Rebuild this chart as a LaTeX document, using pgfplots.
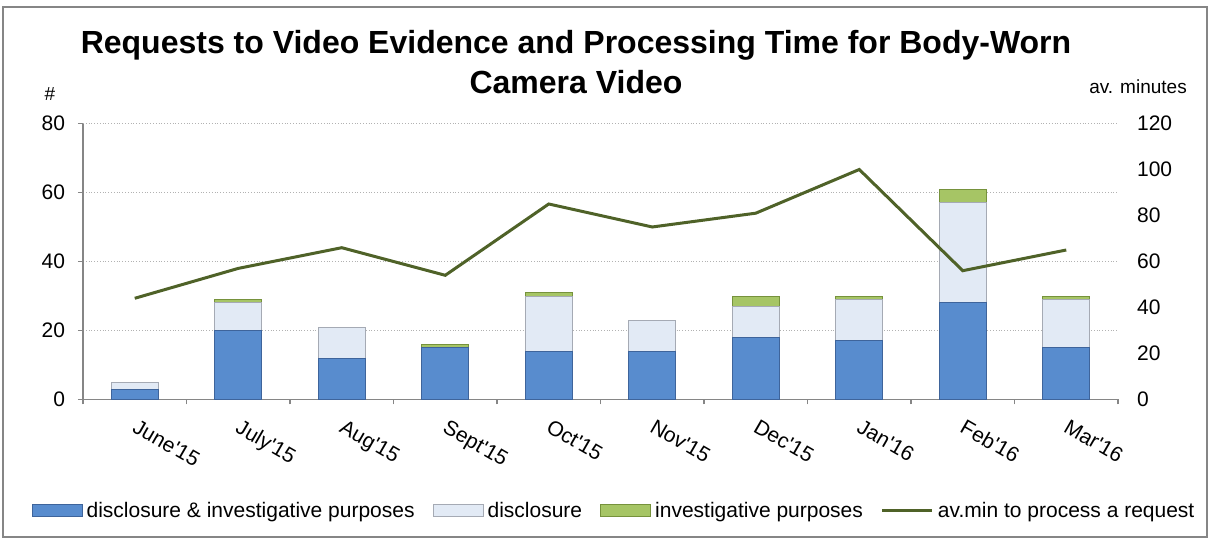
\documentclass[border=0pt]{standalone}
\usepackage{pgfplots}
\usepackage{pgfplotstable}
\pgfplotsset{compat=1.18}
\usepackage{fontspec}
\setmainfont{Liberation Sans}[Ligatures=TeXOff]

\definecolor{barblue}{RGB}{88,140,206}
\definecolor{barblueD}{RGB}{62,100,155}
\definecolor{barlight}{RGB}{226,234,245}
\definecolor{barlightD}{RGB}{165,170,180}
\definecolor{bargreen}{RGB}{166,197,101}
\definecolor{bargreenD}{RGB}{118,146,60}
\definecolor{linegreen}{RGB}{79,98,40}
\definecolor{axgray}{RGB}{134,134,134}

\pgfplotsset{
  barleg/.style={legend image code/.code={\draw[##1] (0pt,-3pt) rectangle (25pt,3pt);}},
  lineleg/.style={legend image code/.code={\draw[##1] (0pt,0pt) -- (25pt,0pt);}},
}

% counts per month (stacked) and average minutes
\pgfplotstableread{
x blue light green mins
0  3  2  0  44
1 20  8  1  57
2 12  9  0  66
3 15  0  1  54
4 14 16  1  85
5 14  9  0  75
6 18  9  3  81
7 17 12  1 100
8 28 29  4  56
9 15 14  1  65
}\reqdata

\begin{document}
\begin{tikzpicture}
\useasboundingbox (-41.5pt,-69.75pt) rectangle (563pt,199.75pt);
\draw[axgray, line width=0.8pt] (-40pt,-68.75pt) rectangle (562pt,196.25pt);

\node[font=\fontsize{16}{19}\selectfont\bfseries] at (246.5pt,177.25pt) {Requests to Video Evidence and Processing Time for Body-Worn};
\node[font=\fontsize{16}{19}\selectfont\bfseries] at (246.5pt,158.75pt) {Camera Video};
\node[font=\fontsize{9.5}{11}\selectfont] at (-16.5pt,152.75pt) {\#};
\node[font=\fontsize{9.5}{11}\selectfont] at (527.5pt,156.25pt) {av. minutes};

\begin{axis}[
  at={(0pt,0pt)}, anchor=south west,
  scale only axis, width=517.5pt, height=138pt,
  xmin=-0.5, xmax=9.5, ymin=0, ymax=80,
  ybar stacked, bar width=23.5pt,
  axis x line*=bottom, axis y line*=left,
  axis line style={draw=axgray, line width=0.6pt},
  tick align=outside,
  ytick={0,20,...,80},
  xtick={0,...,9},
  xticklabels={June'15,July'15,Aug'15,Sept'15,Oct'15,Nov'15,Dec'15,Jan'16,Feb'16,Mar'16},
  minor xtick={-0.5,0.5,...,9.5},
  major x tick style={draw=none},
  minor x tick style={draw=axgray, line width=0.6pt},
  major y tick style={draw=axgray, line width=0.6pt},
  major tick length=2.5pt, minor tick length=2.5pt,
  ymajorgrids, grid style={densely dotted, gray!60, line width=0.4pt},
  /pgf/number format/assume math mode=true,
  yticklabel style={font=\fontsize{10.5}{12}\selectfont, xshift=-3pt},
  xticklabel style={font=\fontsize{10.5}{12}\selectfont, rotate=-30, anchor=north west, inner sep=1pt, yshift=-4pt, xshift=4pt},
  legend style={at={(0.514,-0.404)}, anchor=center, draw=none, fill=none,
    font=\fontsize{10.5}{12}\selectfont, legend columns=4,
    /tikz/every even column/.append style={column sep=7pt}},
  legend cell align=left,
]
\addplot[barleg, fill=barblue, draw=barblueD, line width=0.5pt] table[x=x, y=blue] {\reqdata};
\addlegendentry{disclosure \& investigative purposes}
\addplot[barleg, fill=barlight, draw=barlightD, line width=0.5pt] table[x=x, y=light] {\reqdata};
\addlegendentry{disclosure}
\addplot[barleg, fill=bargreen, draw=bargreenD, line width=0.5pt] table[x=x, y=green] {\reqdata};
\addlegendentry{investigative purposes}
\addlegendimage{lineleg, linegreen, line width=1.5pt}
\addlegendentry{av.min to process a request}
\end{axis}

\begin{axis}[
  at={(0pt,0pt)}, anchor=south west,
  scale only axis, width=517.5pt, height=138pt,
  xmin=-0.5, xmax=9.5, ymin=0, ymax=120,
  axis x line=none, axis y line*=right,
  y axis line style={draw=none},
  ytick={0,20,...,120}, major tick length=0pt,
  /pgf/number format/assume math mode=true,
  yticklabel style={font=\fontsize{10.5}{12}\selectfont, xshift=6pt},
]
\addplot[linegreen, line width=1.5pt, mark=none] table[x=x, y=mins] {\reqdata};
\end{axis}
\end{tikzpicture}
\end{document}
